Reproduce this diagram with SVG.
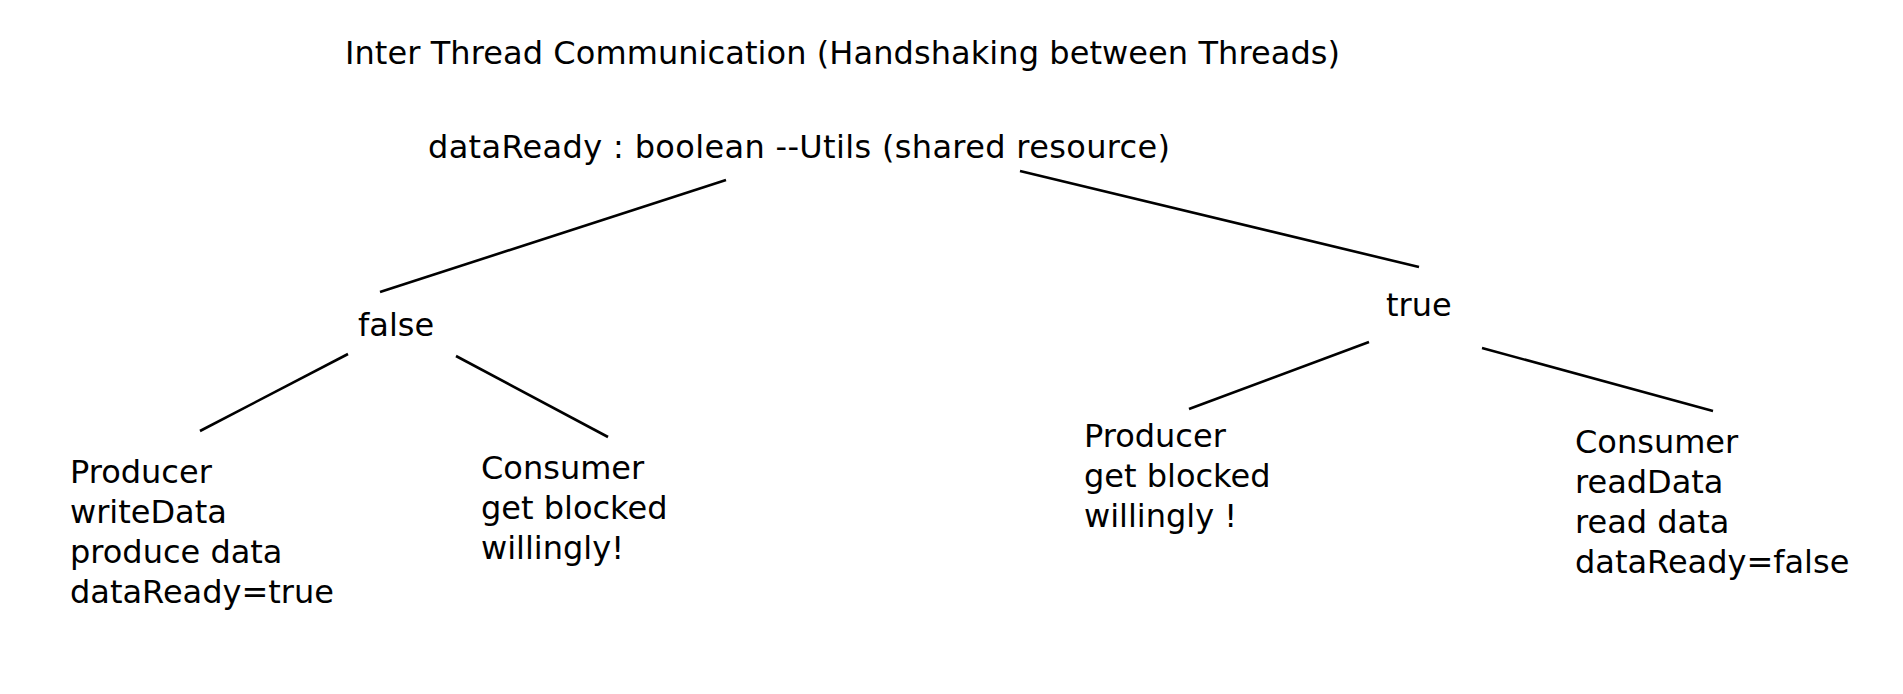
<svg xmlns="http://www.w3.org/2000/svg" width="1903" height="694" viewBox="0 0 1903 694">
<style>
text { font-family: "DejaVu Sans", Verdana, sans-serif; font-size: 32px; fill: #000; }
.ln { stroke: #000; stroke-width: 2.6; fill: none; }
</style>
<rect width="1903" height="694" fill="#fff"/>
<g id="title"><text x="345" y="64" textLength="995">Inter Thread Communication (Handshaking between Threads)</text></g>
<g id="root"><text x="428" y="158" textLength="742">dataReady : boolean --Utils (shared resource)</text></g>
<g id="false"><text x="358" y="336">false</text></g>
<g id="true"><text x="1386" y="316">true</text></g>
<g id="producer-false"><text x="70" y="483">Producer</text><text x="70" y="523">writeData</text><text x="70" y="563">produce data</text><text x="70" y="603">dataReady=true</text></g>
<g id="consumer-false"><text x="481" y="479">Consumer</text><text x="481" y="519">get blocked</text><text x="481" y="559">willingly!</text></g>
<g id="producer-true"><text x="1084" y="447">Producer</text><text x="1084" y="487">get blocked</text><text x="1084" y="527">willingly !</text></g>
<g id="consumer-true"><text x="1575" y="453">Consumer</text><text x="1575" y="493">readData</text><text x="1575" y="533">read data</text><text x="1575" y="573">dataReady=false</text></g>
<g id="connectors">
<line class="ln" x1="726" y1="180" x2="380" y2="292"/>
<line class="ln" x1="1020" y1="171" x2="1419" y2="267"/>
<line class="ln" x1="348" y1="354" x2="200" y2="431"/>
<line class="ln" x1="456" y1="356" x2="608" y2="437"/>
<line class="ln" x1="1369" y1="342" x2="1189" y2="409"/>
<line class="ln" x1="1482" y1="348" x2="1713" y2="411"/>
</g>
</svg>
